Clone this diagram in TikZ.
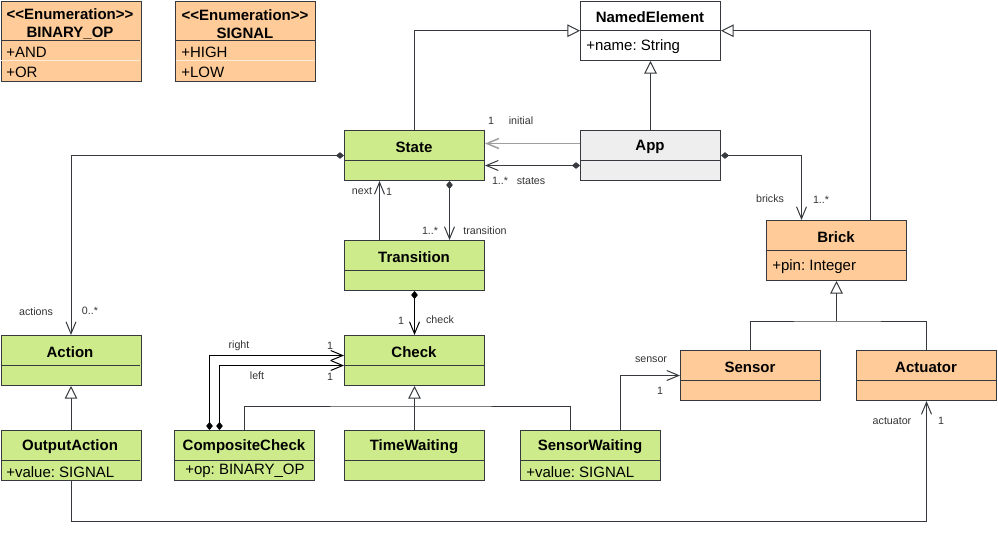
\documentclass[tikz,border=0pt]{standalone}
\usepackage{fontspec}
\setmainfont{Liberation Sans}
\usetikzlibrary{arrows.meta,calc}
\definecolor{grn}{HTML}{CDEB8B}
\definecolor{org}{HTML}{FFCC99}
\definecolor{gry}{HTML}{EEEEEE}
\definecolor{ln}{HTML}{36393D}
\definecolor{lbltxt}{HTML}{333333}
\frenchspacing
\begin{document}
\begin{tikzpicture}[x=0.75pt,y=-0.75pt,
  cls/.style={draw=ln, line width=0.75pt, rectangle, minimum width=105pt, inner sep=0pt, anchor=north west},
  ttl/.style={font=\bfseries\fontsize{11.25}{13.5}\selectfont, text=black, inner sep=0pt, align=center},
  att/.style={font=\fontsize{11.25}{13.5}\selectfont, text=black, anchor=west, inner sep=0pt},
  lbl/.style={font=\fontsize{8}{9.5}\selectfont, text=lbltxt, inner sep=0pt},
  div/.style={draw=ln, line width=0.75pt},
  faint/.style={draw=white!60!org, line width=0.6pt},
  conn/.style={draw=ln, line width=0.75pt},
  assoc/.style={-{Straight Barb[length=9pt,width=7.5pt]}},
  comp/.style={{Diamond[length=6pt,width=5pt]}-{Straight Barb[length=9pt,width=7.5pt]}},
  gen/.style={-{Triangle[length=9.5pt,width=9.5pt,fill=white]}}
]
\useasboundingbox (0,0) rectangle (998,536);

% ---------- enumerations ----------
\node[cls, fill=org, minimum height=60pt] (binop) at (0.5,0.5) {};
\draw[div] (0.5,40) -- (140,40);
\draw[faint] (1,60) -- (139.5,60);
\node[ttl] (binopT) at (70,24) {<\kern0pt<Enumeration>\kern0pt>\\BINARY\_OP};
\node[att] (binopA) at (6,52) {+AND};
\node[att] (binopB) at (6,72) {+OR};

\node[cls, fill=org, minimum height=60pt] (signal) at (175,0.5) {};
\draw[div] (175,40) -- (315,40);
\draw[faint] (175.5,60) -- (314.5,60);
\node[ttl] (signalT) at (245,24) {<\kern0pt<Enumeration>\kern0pt>\\SIGNAL};
\node[att] (signalA) at (181,52) {+HIGH};
\node[att] (signalB) at (181,72) {+LOW};

% ---------- classes ----------
\node[cls, fill=white, minimum height=44.6pt] (named) at (580,0.5) {};
\draw[div] (580,30) -- (720,30);
\node[ttl] (namedT) at (650,17) {NamedElement};
\node[att] (namedA) at (586,47) {+name: String};

\node[cls, fill=grn, minimum height=37.5pt] (state) at (344,130) {};
\draw[div] (344,160) -- (484,160);
\node[ttl] (stateT) at (414,147) {State};

\node[cls, fill=gry, minimum height=37.5pt] (app) at (580,130) {};
\draw[div] (580,160) -- (720,160);
\node[ttl] (appT) at (650,147) {App};

\node[cls, fill=org, minimum height=45pt] (brick) at (766,220) {};
\draw[div] (766,250) -- (906,250);
\node[ttl] (brickT) at (836,237) {Brick};
\node[att] (brickA) at (772,267) {+pin: Integer};

\node[cls, fill=grn, minimum height=37.5pt] (trans) at (344,240) {};
\draw[div] (344,270) -- (484,270);
\node[ttl] (transT) at (414,257) {Transition};

\node[cls, fill=grn, minimum height=37.5pt] (action) at (0.5,335) {};
\draw[div] (0.5,365) -- (140,365);
\node[ttl] (actionT) at (70,352) {Action};

\node[cls, fill=grn, minimum height=37.5pt] (check) at (344,335) {};
\draw[div] (344,365) -- (484,365);
\node[ttl] (checkT) at (414,352) {Check};

\node[cls, fill=grn, minimum height=37.5pt] (outact) at (0.5,430) {};
\draw[div] (0.5,460) -- (140,460);
\node[ttl] (outactT) at (70,447) {OutputAction};
\node[att] (outactA) at (6,472) {+value: SIGNAL};

\node[cls, fill=grn, minimum height=37.5pt] (compc) at (174,430) {};
\draw[div] (174,460) -- (314,460);
\node[ttl] (compcT) at (244,447) {CompositeCheck};
\node[att] (compcA) at (185,471) {+op: BINARY\_OP};

\node[cls, fill=grn, minimum height=37.5pt] (timew) at (344,430) {};
\draw[div] (344,460) -- (484,460);
\node[ttl] (timewT) at (414,447) {TimeWaiting};

\node[cls, fill=grn, minimum height=37.5pt] (sensw) at (520,430) {};
\draw[div] (520,460) -- (660,460);
\node[ttl] (senswT) at (590,447) {SensorWaiting};
\node[att] (senswA) at (526,472) {+value: SIGNAL};

\node[cls, fill=org, minimum height=37.5pt] (sensor) at (680,350) {};
\draw[div] (680,380) -- (820,380);
\node[ttl] (sensorT) at (750,367) {Sensor};

\node[cls, fill=org, minimum height=37.5pt] (act) at (856,350) {};
\draw[div] (856,380) -- (996,380);
\node[ttl] (actT) at (926,367) {Actuator};

% ---------- generalizations ----------
\draw[conn,gen] (state.north) |- (named.west);
\draw[conn,gen] ($(brick.north)+(34,0)$) |- (named.east);
\draw[conn,gen] (app.north) -- (named.south);
\draw[conn,gen] (outact.north) -- (action.south);
\draw[conn,gen] (timew.north) -- (check.south);
\draw[conn] (compc.north) |- ($(check.south)+(0,20)$) -| ($(sensw.north)+(-20,0)$);
\draw[conn] (sensor.north) |- ($(brick.south)+(0,40)$) -| (act.north);
\draw[conn,gen] ($(brick.south)+(0,40)$) -- (brick.south);

% ---------- associations ----------
\draw[draw=gray!75, line width=1.1pt, assoc] ($(app.west)+(0,-12)$) coordinate (ini) -- (state.east |- ini);
\draw[conn,comp] ($(app.west)+(0,10)$) coordinate (sts) -- (state.east |- sts);
\draw[conn,comp] (app.east) -| ($(brick.north)+(-35,0)$);
\draw[conn,comp] (state.west) -| (action.north);
\draw[conn,assoc] ($(trans.north)+(-35,0)$) coordinate (nx) -- (state.south -| nx);
\draw[conn,comp] ($(state.south)+(35,0)$) coordinate (tr) -- (trans.north -| tr);
\draw[draw=black, line width=0.75pt, comp] (trans.south) -- (check.north);
\draw[draw=black, line width=0.75pt, comp] ($(compc.north)+(-35,0)$) |- ($(check.west)+(0,-5)$);
\draw[draw=black, line width=0.75pt, comp] ($(compc.north)+(-25,0)$) |- ($(check.west)+(0,5)$);
\draw[conn,assoc] ($(sensw.north)+(30,0)$) |- (sensor.west);
\draw[conn,assoc] (outact.south) -- ++(0,40) -| (act.south);

% ---------- labels ----------
\node[lbl] (l1) at (491,121) {1};
\node[lbl] (l2) at (521,121) {initial};
\node[lbl] (l3) at (500,181) {1..*};
\node[lbl] (l4) at (531,181) {states};
\node[lbl] (l5) at (770,199) {bricks};
\node[lbl] (l6) at (821,200) {1..*};
\node[lbl] (l7) at (36,312) {actions};
\node[lbl] (l8) at (90,311) {0..*};
\node[lbl] (l9) at (362,191) {next};
\node[lbl] (l10) at (389,192) {1};
\node[lbl] (l11) at (430,231) {1..*};
\node[lbl] (l12) at (485,231) {transition};
\node[lbl] (l13) at (401,321) {1};
\node[lbl] (l14) at (440,320) {check};
\node[lbl] (l15) at (239,346) {right};
\node[lbl] (l16) at (330,346) {1};
\node[lbl] (l17) at (257,376) {left};
\node[lbl] (l18) at (330,377) {1};
\node[lbl] (l19) at (651,360) {sensor};
\node[lbl] (l20) at (660,391) {1};
\node[lbl] (l21) at (892,421) {actuator};
\node[lbl] (l22) at (941,421) {1};
\end{tikzpicture}
\end{document}
